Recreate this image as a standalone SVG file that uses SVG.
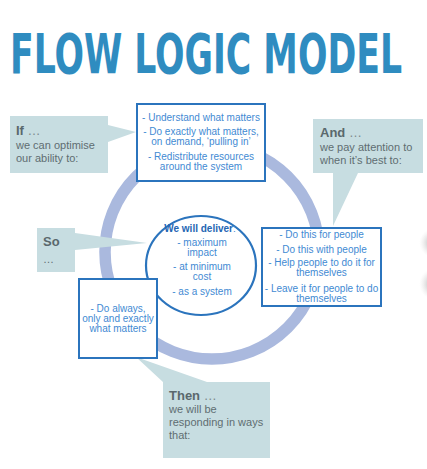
<svg xmlns="http://www.w3.org/2000/svg" width="427" height="469" viewBox="0 0 427 469">
<style>
.callout{fill:#c7dde1}
.ch{font-family:"Liberation Sans",Arial,sans-serif;font-size:13px;font-weight:bold;fill:#5a686c}
.cd{font-weight:normal;fill:#7d8a8d}
.ct{font-family:"Liberation Sans",Arial,sans-serif;font-size:11px;fill:#5f6d71}
.box{fill:#ffffff;stroke:#2b74bd;stroke-width:2}
.bt{font-family:"Liberation Sans",Arial,sans-serif;font-size:10px;fill:#3f8ad3;text-anchor:middle}
</style>
<defs>
<radialGradient id="blob" cx="0.6" cy="0.5" r="0.5">
<stop offset="0" stop-color="#8c8c8c"/>
<stop offset="1" stop-color="#d8d8d8" stop-opacity="0"/>
</radialGradient>
</defs>
<rect width="427" height="469" fill="#ffffff"/>
<text transform="translate(10,73) scale(0.7,1)" x="0" y="0" font-family="'DejaVu Sans Condensed','DejaVu Sans',sans-serif" font-weight="bold" font-size="56" fill="#2f8cc0" textLength="560" lengthAdjust="spacingAndGlyphs">FLOW LOGIC MODEL</text>
<g id="edge-blobs">
<ellipse cx="432" cy="243" rx="16" ry="15" fill="url(#blob)"/>
<ellipse cx="432" cy="284" rx="16" ry="16" fill="url(#blob)"/>
</g>
<g id="connectors">
<circle cx="212" cy="252" r="107" fill="none" stroke="#aab9de" stroke-width="11.5"/>
</g>
<g id="if">
<path class="callout" d="M10,116 H108 V125 L136,132 L108,142 V173 H10 Z"/>
<text class="ch" x="16" y="135">If <tspan class="cd">…</tspan></text>
<text class="ct" x="16" y="149">we can optimise</text>
<text class="ct" x="16" y="162">our ability to:</text>
</g>
<g id="and">
<path class="callout" d="M313,119 H423 V173 H358 L333,226 V173 H313 Z"/>
<text class="ch" x="320" y="137">And <tspan class="cd">…</tspan></text>
<text class="ct" x="320" y="151">we pay attention to</text>
<text class="ct" x="320" y="164">when it’s best to:</text>
</g>
<g id="so">
<path class="callout" d="M37,228 H75 V233 L147,243 L75,250 V272 H37 Z"/>
<text class="ch" x="43" y="246">So</text>
<text class="ct" x="43" y="263" fill="#8a9698">…</text>
</g>
<g id="then">
<path class="callout" d="M163,382 L136,357 L207,382 H270 V458 H163 Z"/>
<text class="ch" x="169" y="400">Then <tspan class="cd">…</tspan></text>
<text class="ct" x="169" y="413">we will be</text>
<text class="ct" x="169" y="426">responding in ways</text>
<text class="ct" x="169" y="439">that:</text>
</g>
<g id="deliver">
<ellipse cx="201" cy="265.5" rx="55" ry="49.5" fill="#ffffff" stroke="#2b74bd" stroke-width="2.2"/>
<text class="bt" x="200" y="232"><tspan font-weight="bold" fill="#2466b3">We will deliver</tspan>:</text>
<text class="bt" x="202" y="246">- maximum</text>
<text class="bt" x="202" y="256">impact</text>
<text class="bt" x="202" y="270">- at minimum</text>
<text class="bt" x="202" y="280">cost</text>
<text class="bt" x="202" y="295">- as a system</text>
</g>
<g id="optimise-box">
<rect class="box" x="137" y="104" width="128" height="77"/>
<text class="bt" x="201" y="121">- Understand what matters</text>
<text class="bt" x="201" y="135">- Do exactly what matters,</text>
<text class="bt" x="201" y="145">on demand, ‘pulling in’</text>
<text class="bt" x="201" y="160">- Redistribute resources</text>
<text class="bt" x="201" y="170">around the system</text>
</g>
<g id="attention-box">
<rect class="box" x="262" y="228" width="119" height="78"/>
<text class="bt" x="321.5" y="238">- Do this for people</text>
<text class="bt" x="321.5" y="253">- Do this with people</text>
<text class="bt" x="321.5" y="266">- Help people to do it for</text>
<text class="bt" x="321.5" y="276">themselves</text>
<text class="bt" x="321.5" y="292">- Leave it for people to do</text>
<text class="bt" x="321.5" y="302">themselves</text>
</g>
<g id="respond-box">
<rect class="box" x="79" y="279" width="78" height="79"/>
<text class="bt" x="118" y="312">- Do always,</text>
<text class="bt" x="118" y="322">only and exactly</text>
<text class="bt" x="118" y="332">what matters</text>
</g>
</svg>
